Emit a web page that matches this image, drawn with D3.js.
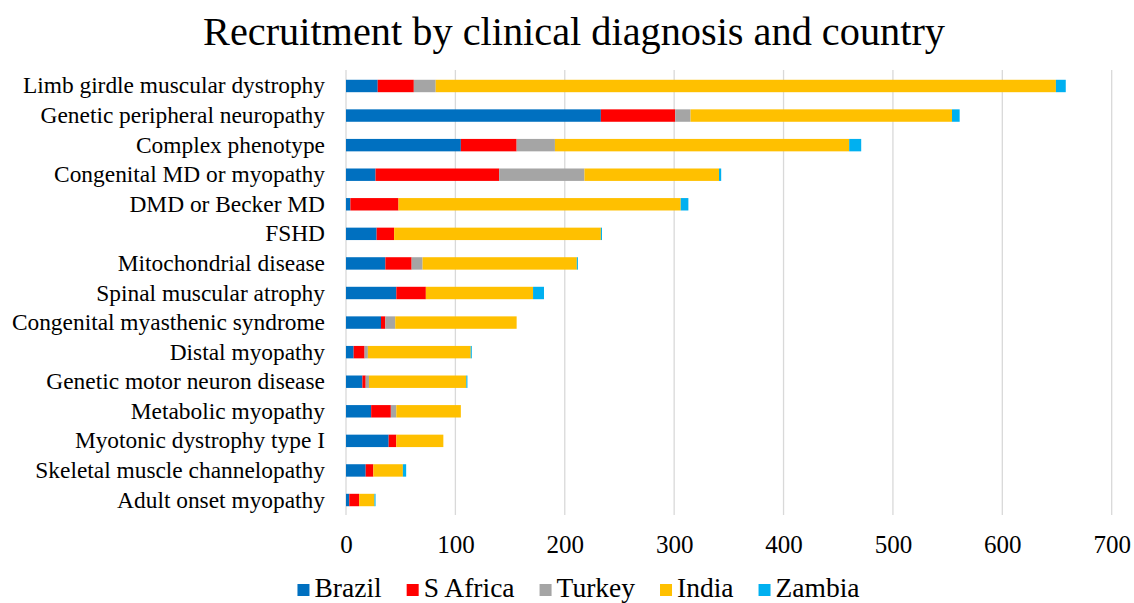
<!DOCTYPE html>
<html>
<head>
<meta charset="utf-8">
<script src="https://cdn.jsdelivr.net/npm/d3@7"></script>
<style>
  body { margin: 0; background: #fff; }
  svg text { font-family: "Liberation Serif", "Times New Roman", serif; }
</style>
</head>
<body>
<svg id="chart" width="1134" height="603"></svg>
<script>
// Recruitment by clinical diagnosis and country, stacked horizontal bars

let FONT = "Liberation Serif, Times New Roman, serif";

let categories = [
  "Limb girdle muscular dystrophy", "Genetic peripheral neuropathy",
  "Complex phenotype", "Congenital MD or myopathy", "DMD or Becker MD",
  "FSHD", "Mitochondrial disease", "Spinal muscular atrophy",
  "Congenital myasthenic syndrome", "Distal myopathy",
  "Genetic motor neuron disease", "Metabolic myopathy",
  "Myotonic dystrophy type I", "Skeletal muscle channelopathy",
  "Adult onset myopathy"
];

let countries = ["Brazil", "S Africa", "Turkey", "India", "Zambia"];
let colours = ["#0070c0", "#ff0000", "#a5a5a5", "#ffc000", "#00b0f0"];

let brazil  = [29, 233, 105, 27, 4, 28, 36, 46, 32, 7, 15, 23, 39, 18, 3];
let sAfrica = [33, 68, 51, 113, 44, 16, 24, 27, 4, 10, 3, 18, 7, 7, 9];
let turkey  = [20, 14, 35, 78, 0, 0, 10, 0, 9, 3, 3, 5, 0, 0, 0];
let india   = [567, 239, 269, 123, 258, 189, 141, 98, 111, 94, 89, 59, 43, 27, 14];
let zambia  = [9, 7, 11, 2, 7, 1, 1, 10, 0, 1, 1, 0, 0, 3, 1];

let xTicks = [0, 100, 200, 300, 400, 500, 600, 700];

// build rows for d3.stack
let series = [brazil, sAfrica, turkey, india, zambia];
let rows = categories.map(function(c, i) {
  let r = {name: c};
  countries.forEach(function(k, j) { r[k] = series[j][i]; });
  return r;
});

let svg = d3.select("#chart");

let x = d3.scaleLinear().domain([0, 700]).range([346, 1111.7]);
let y = d3.scaleBand().domain(categories).range([71.2, 514.8])
  .paddingInner(0.58).paddingOuter(0.29);
let colour = d3.scaleOrdinal().domain(countries).range(colours);

// title
svg.append("text")
  .attr("x", 574).attr("y", 45)
  .attr("text-anchor", "middle")
  .attr("font-family", FONT)
  .style("font-size", "40.3px")
  .text("Recruitment by clinical diagnosis and country");

// vertical gridlines
svg.append("g").selectAll("line")
  .data(xTicks)
  .enter().append("line")
    .attr("x1", function(d) { return x(d); })
    .attr("x2", function(d) { return x(d); })
    .attr("y1", 70).attr("y2", 515)
    .attr("stroke", "#d9d9d9")
    .attr("stroke-width", 1.3);

// stacked bars
let stacked = d3.stack().keys(countries)(rows);

svg.append("g").selectAll("g")
  .data(stacked)
  .enter().append("g")
    .attr("fill", function(d) { return colour(d.key); })
  .selectAll("rect")
  .data(function(d) { return d; })
  .enter().append("rect")
    .attr("x", function(d) { return x(d[0]); })
    .attr("width", function(d) { return x(d[1]) - x(d[0]); })
    .attr("y", function(d) { return y(d.data.name); })
    .attr("height", y.bandwidth());

// category labels
let yAxis = svg.append("g")
  .attr("transform", "translate(346,0)")
  .call(d3.axisLeft(y).tickSize(0).tickPadding(21));
yAxis.attr("font-family", FONT).attr("font-size", 23.4);
yAxis.select(".domain").remove();
yAxis.selectAll("text").attr("fill", "#000");

// x tick labels
let xAxis = svg.append("g")
  .attr("transform", "translate(0,515)")
  .call(d3.axisBottom(x).tickValues(xTicks).tickSize(0).tickPadding(20));
xAxis.attr("font-family", FONT).attr("font-size", 25);
xAxis.select(".domain").remove();
xAxis.selectAll("text").attr("fill", "#000");

// legend
let legend = svg.append("g").attr("font-family", FONT).attr("font-size", 27.5);
let items = legend.selectAll("g")
  .data(countries)
  .enter().append("g");

items.append("rect")
  .attr("width", 12).attr("height", 12)
  .attr("y", 584)
  .attr("fill", function(d) { return colour(d); });

items.append("text")
  .attr("x", 17).attr("y", 597)
  .text(function(d) { return d; });

// lay the entries out in a row, centred
let GAP = 25;
let pos = 0;
let offsets = [];
items.each(function() {
  offsets.push(pos);
  pos += 17 + this.querySelector("text").getComputedTextLength() + GAP;
});
let total = pos - GAP;
let start = 578.5 - total / 2;
items.attr("transform", function(d, i) { return "translate(" + (start + offsets[i]) + ",0)"; });
</script>
</body>
</html>
